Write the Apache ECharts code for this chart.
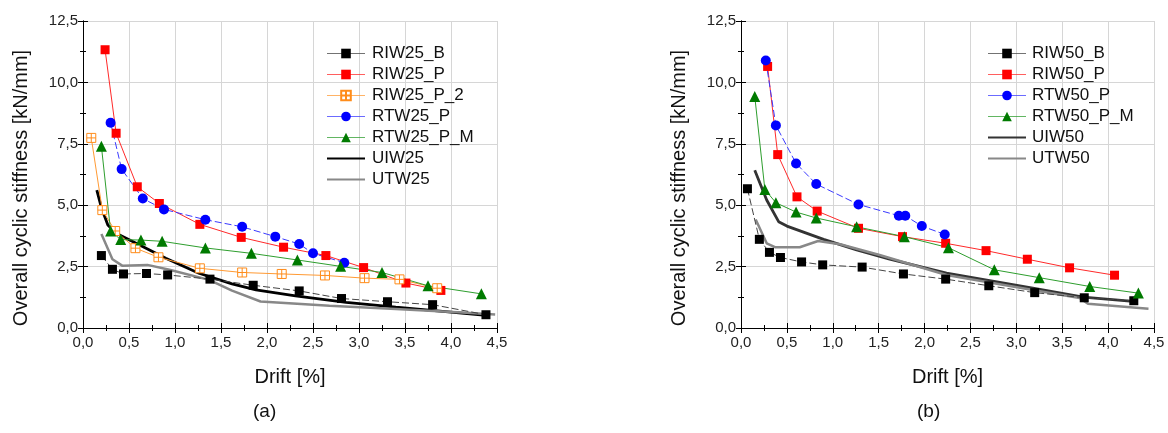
<!DOCTYPE html>
<html>
<head>
<meta charset="utf-8">
<script src="https://cdn.jsdelivr.net/npm/echarts@6/dist/echarts.min.js"></script>
<style>
html,body{margin:0;padding:0;background:#fff;}
#c{width:1168px;height:433px;}
</style>
</head>
<body>
<div id="c"></div>
<script>
// ---------- data (a) ----------
const xTicks = [0, 0.5, 1, 1.5, 2, 2.5, 3, 3.5, 4, 4.5];
const yTicks = [0, 2.5, 5, 7.5, 10, 12.5];

const riw25bX = [0.20,0.32,0.44,0.69,0.92,1.38,1.85,2.35,2.81,3.31,3.80,4.38];
const riw25bY = [2.95,2.39,2.20,2.22,2.16,1.99,1.74,1.51,1.20,1.07,0.95,0.54];
const riw25pX = [0.24,0.36,0.59,0.83,1.27,1.72,2.18,2.64,3.05,3.51,3.89];
const riw25pY = [11.33,7.93,5.75,5.07,4.22,3.69,3.29,2.95,2.46,1.83,1.53];
const riw25p2X = [0.09,0.21,0.35,0.57,0.82,1.27,1.73,2.16,2.63,3.06,3.44,3.85];
const riw25p2Y = [7.74,4.80,3.95,3.25,2.88,2.43,2.26,2.20,2.14,2.03,1.98,1.62];
const rtw25pX = [0.30,0.42,0.65,0.88,1.33,1.73,2.09,2.35,2.50,2.84];
const rtw25pY = [8.36,6.47,5.27,4.83,4.41,4.12,3.72,3.42,3.04,2.66];
const rtw25pmX = [0.20,0.30,0.41,0.63,0.86,1.33,1.83,2.33,2.80,3.25,3.75,4.33];
const rtw25pmY = [7.40,3.95,3.60,3.58,3.53,3.26,3.04,2.77,2.51,2.26,1.72,1.39];
const uiw25X = [0.15,0.20,0.27,0.36,0.54,0.90,1.26,1.62,1.88,2.31,2.86,3.40,3.94,4.41];
const uiw25Y = [5.61,4.90,4.19,3.86,3.52,2.84,2.23,1.80,1.55,1.31,1.04,0.85,0.67,0.50];
const utw25X = [0.20,0.32,0.43,0.70,0.94,1.37,1.62,1.93,2.68,3.40,4.12,4.48];
const utw25Y = [3.83,2.80,2.53,2.57,2.37,1.96,1.52,1.08,0.91,0.77,0.63,0.55];

// ---------- data (b) ----------
const riw50bX = [0.07,0.20,0.31,0.43,0.66,0.89,1.32,1.77,2.23,2.70,3.20,3.74,4.28];
const riw50bY = [5.67,3.61,3.08,2.87,2.69,2.57,2.48,2.20,1.99,1.72,1.44,1.23,1.11];
const riw50pX = [0.29,0.40,0.61,0.83,1.28,1.76,2.23,2.67,3.12,3.58,4.07];
const riw50pY = [10.65,7.06,5.34,4.76,4.06,3.72,3.45,3.15,2.80,2.45,2.15];
const rtw50pX = [0.27,0.38,0.60,0.82,1.28,1.72,1.79,1.97,2.22];
const rtw50pY = [10.89,8.25,6.70,5.86,5.03,4.57,4.57,4.15,3.81];
const rtw50pmX = [0.15,0.26,0.38,0.60,0.82,1.26,1.78,2.26,2.76,3.25,3.80,4.33];
const rtw50pmY = [9.43,5.64,5.10,4.72,4.48,4.12,3.72,3.27,2.37,2.05,1.69,1.42];
const uiw50X = [0.15,0.28,0.41,0.50,0.90,1.26,1.62,2.24,3.18,3.73,4.27];
const uiw50Y = [6.42,5.21,4.33,4.15,3.61,3.18,2.80,2.23,1.62,1.26,1.08];
const utw50X = [0.16,0.28,0.37,0.64,0.84,1.08,1.51,2.24,3.18,3.69,3.78,4.44];
const utw50Y = [4.42,3.45,3.29,3.29,3.54,3.41,2.97,2.16,1.55,1.22,0.99,0.78];

const legendA = ['RIW25_B','RIW25_P','RIW25_P_2','RTW25_P','RTW25_P_M','UIW25','UTW25'];
const legendB = ['RIW50_B','RIW50_P','RTW50_P','RTW50_P_M','UIW50','UTW50'];
const plainNames = ['UIW25','UTW25','UIW50','UTW50'];
const xTitle = 'Drift [%]';
const yTitle = 'Overall cyclic stiffness [kN/mm]';
const panelLabels = ['(a)', '(b)'];

// ---------- build ----------
const FONT = 'Liberation Sans, Arial, sans-serif';
const zip = (xs, ys) => xs.map((x, i) => [x, ys[i]]);
const fmt = v => v.toFixed(1).replace('.', ',');
const crossSquare = 'path://M0,0H10V10H0Z M5,0V10 M0,5H10';

const grids = [
  {left: 83, width: 414, top: 21, bottom: 105},
  {left: 741, width: 413, top: 21, bottom: 105}
];

function xAxes(gi) {
  const common = {
    type: 'value', gridIndex: gi, min: xTicks[0], max: xTicks[xTicks.length-1], interval: 0.5,
    axisLine: {show: true, lineStyle: {color: '#000', width: 1}},
    axisTick: {show: true, inside: true, length: 5, lineStyle: {color: '#000'}},
    minorTick: {show: true, splitNumber: 2, length: 3, lineStyle: {color: '#000'}},
  };
  return [
    Object.assign({}, common, {
      position: 'bottom',
      axisLabel: {formatter: fmt, color: '#222', fontSize: 15, fontFamily: FONT, margin: 7},
      splitLine: {show: true, lineStyle: {color: '#d6d6d6', width: 1}},
      name: xTitle, nameLocation: 'middle', nameGap: 39,
      nameTextStyle: {fontSize: 20, color: '#111', fontFamily: FONT}
    }),
    Object.assign({}, common, {
      position: 'top', axisLabel: {show: false}, splitLine: {show: false}
    })
  ];
}
function yAxes(gi) {
  const common = {
    type: 'value', gridIndex: gi, min: yTicks[0], max: yTicks[yTicks.length-1], interval: 2.5,
    axisLine: {show: true, lineStyle: {color: '#000', width: 1}},
    axisTick: {show: true, inside: true, length: 5, lineStyle: {color: '#000'}},
    minorTick: {show: true, splitNumber: 2, length: 3, lineStyle: {color: '#000'}},
  };
  return [
    Object.assign({}, common, {
      position: 'left',
      axisLabel: {formatter: fmt, color: '#222', fontSize: 15, fontFamily: FONT, margin: 5},
      splitLine: {show: true, lineStyle: {color: '#d6d6d6', width: 1}}
    }),
    Object.assign({}, common, {
      position: 'right', axisLabel: {show: false}, splitLine: {show: false}
    })
  ];
}

function markerSeries(name, gi, xs, ys, symbol, size, symColor, lineColor, lineType, extra) {
  return Object.assign({
    name, type: 'line', xAxisIndex: gi*2, yAxisIndex: gi*2,
    data: zip(xs, ys), symbol, symbolSize: size, showSymbol: true,
    lineStyle: {color: lineColor, width: 1, type: lineType || 'solid'},
    itemStyle: {color: symColor, borderColor: symColor, borderWidth: 0},
    emphasis: {disabled: true}, animation: false, z: 3
  }, extra || {});
}
function plainSeries(name, gi, xs, ys, color, width) {
  return {
    name, type: 'line', xAxisIndex: gi*2, yAxisIndex: gi*2,
    data: zip(xs, ys), symbol: 'none', showSymbol: false,
    lineStyle: {color, width}, itemStyle: {color},
    emphasis: {disabled: true}, animation: false, z: 2
  };
}

const series = [
  markerSeries('RIW25_B', 0, riw25bX, riw25bY, 'rect', 9, '#000', '#444', [7, 3]),
  markerSeries('RIW25_P', 0, riw25pX, riw25pY, 'rect', 9, '#ff0000', '#ff2a2a'),
  markerSeries('RIW25_P_2', 0, riw25p2X, riw25p2Y, crossSquare, 9, '#ff8c1a', '#ff9a33', null,
    {itemStyle: {color: '#fff', borderColor: '#ff8c1a', borderWidth: 1}}),
  markerSeries('RTW25_P', 0, rtw25pX, rtw25pY, 'circle', 10, '#0000ff', '#3a3aff', [7, 3]),
  markerSeries('RTW25_P_M', 0, rtw25pmX, rtw25pmY, 'triangle', 11, '#007a00', '#2e9e2e'),
  plainSeries('UIW25', 0, uiw25X, uiw25Y, '#000', 2.8),
  plainSeries('UTW25', 0, utw25X, utw25Y, '#888', 2.5),

  markerSeries('RIW50_B', 1, riw50bX, riw50bY, 'rect', 9, '#000', '#444', [7, 3]),
  markerSeries('RIW50_P', 1, riw50pX, riw50pY, 'rect', 9, '#ff0000', '#ff2a2a'),
  markerSeries('RTW50_P', 1, rtw50pX, rtw50pY, 'circle', 10, '#0000ff', '#3a3aff', [7, 3]),
  markerSeries('RTW50_P_M', 1, rtw50pmX, rtw50pmY, 'triangle', 11, '#007a00', '#2e9e2e'),
  plainSeries('UIW50', 1, uiw50X, uiw50Y, '#333', 2.8),
  plainSeries('UTW50', 1, utw50X, utw50Y, '#888', 2.5),
];

function legendData(names) {
  return names.map(n => plainNames.includes(n)
    ? {name: n, itemStyle: {color: 'rgba(0,0,0,0)', borderWidth: 0, opacity: 0}}
    : {name: n, lineStyle: {type: 'solid', width: 1, opacity: 0.75}});
}
const legendCommon = {
  orient: 'vertical', itemWidth: 38, itemHeight: 12, itemGap: 4,
  textStyle: {fontSize: 17, lineHeight: 17, color: '#111', fontFamily: FONT},
  selectedMode: false, padding: 0
};

const chart = echarts.init(document.getElementById('c'), null, {renderer: 'canvas'});
chart.setOption({
  backgroundColor: '#fff',
  animation: false,
  grid: grids,
  xAxis: [...xAxes(0), ...xAxes(1)],
  yAxis: [...yAxes(0), ...yAxes(1)],
  legend: [
    Object.assign({}, legendCommon, {data: legendData(legendA), left: 326, top: 45,
      textStyle: Object.assign({}, legendCommon.textStyle, {padding: [0,0,0,2]})}),
    Object.assign({}, legendCommon, {data: legendData(legendB), left: 987, top: 45,
      textStyle: Object.assign({}, legendCommon.textStyle, {padding: [0,0,0,1]})})
  ],
  graphic: [
    {type: 'text', x: 21, y: 188, rotation: Math.PI / 2,
      style: {text: yTitle, font: '20px ' + FONT, fill: '#111', align: 'center', verticalAlign: 'middle'}},
    {type: 'text', x: 679, y: 188, rotation: Math.PI / 2,
      style: {text: yTitle, font: '20px ' + FONT, fill: '#111', align: 'center', verticalAlign: 'middle'}},
    {type: 'text', left: 253, top: 402, style: {text: panelLabels[0], font: '19px ' + FONT, fill: '#111'}},
    {type: 'text', left: 917, top: 402, style: {text: panelLabels[1], font: '19px ' + FONT, fill: '#111'}}
  ],
  series
});
</script>
</body>
</html>
